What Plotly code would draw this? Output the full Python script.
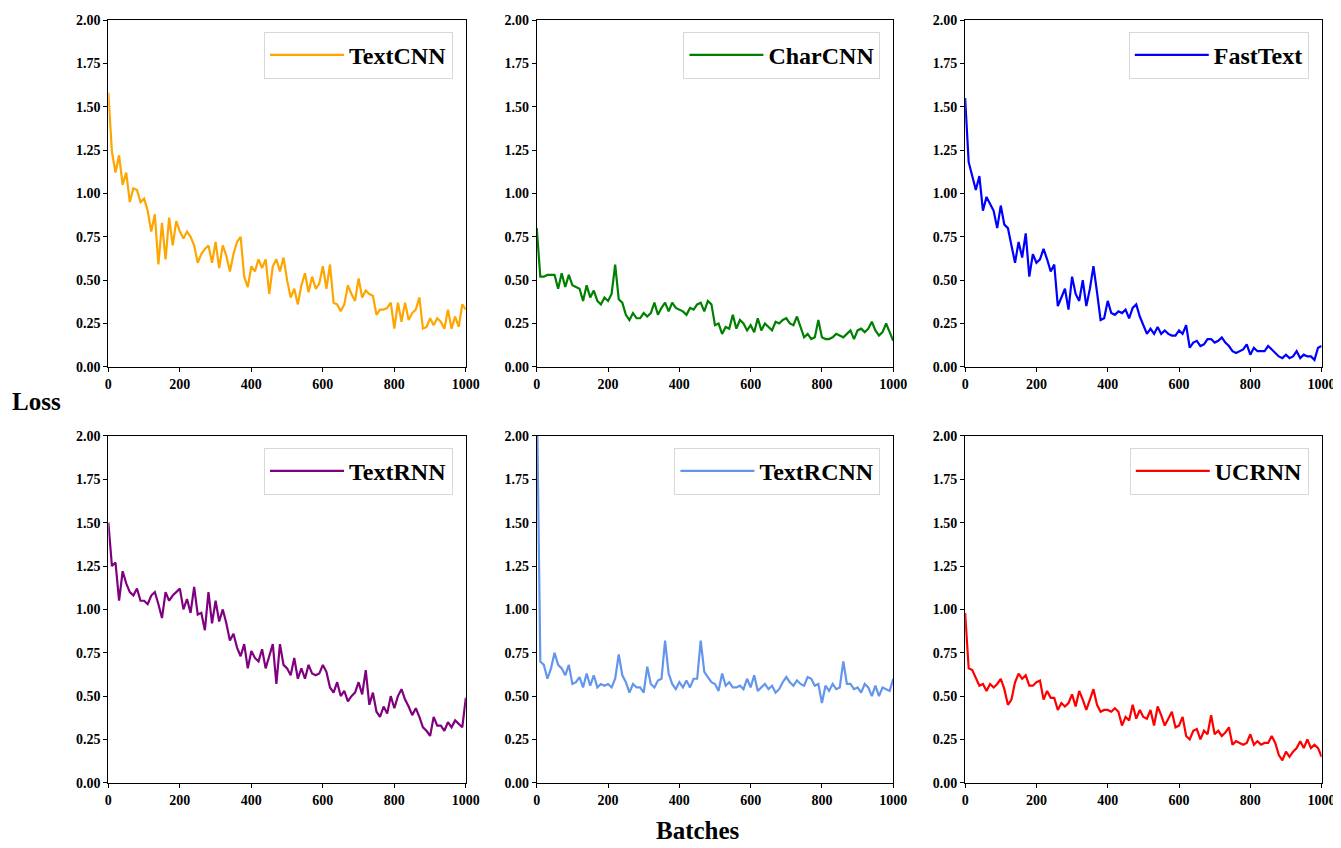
import plotly.graph_objects as go

batches = list(range(0, 1001, 10))

textcnn = [1.58, 1.24, 1.12, 1.22, 1.05, 1.12, 0.95, 1.03, 1.02, 0.95,
           0.97, 0.90, 0.78, 0.88, 0.59, 0.83, 0.62, 0.86, 0.70, 0.84,
           0.78, 0.74, 0.78, 0.75, 0.70, 0.60, 0.65, 0.68, 0.70, 0.60,
           0.72, 0.57, 0.70, 0.64, 0.55, 0.65, 0.72, 0.75, 0.52, 0.46,
           0.58, 0.55, 0.62, 0.57, 0.62, 0.42, 0.58, 0.62, 0.55, 0.63,
           0.50, 0.40, 0.45, 0.36, 0.47, 0.54, 0.43, 0.52, 0.45, 0.48,
           0.58, 0.45, 0.59, 0.37, 0.36, 0.32, 0.36, 0.47, 0.42, 0.38,
           0.51, 0.40, 0.44, 0.42, 0.41, 0.30, 0.33, 0.33, 0.34, 0.37,
           0.22, 0.37, 0.26, 0.37, 0.27, 0.31, 0.33, 0.40, 0.22, 0.23,
           0.28, 0.24, 0.28, 0.26, 0.22, 0.33, 0.22, 0.29, 0.23, 0.36,
           0.33]

charcnn = [0.80, 0.52, 0.52, 0.53, 0.53, 0.53, 0.45, 0.54, 0.46, 0.53,
           0.47, 0.46, 0.45, 0.38, 0.47, 0.40, 0.44, 0.38, 0.36, 0.40,
           0.38, 0.42, 0.59, 0.39, 0.37, 0.30, 0.27, 0.31, 0.28, 0.28,
           0.31, 0.29, 0.31, 0.37, 0.30, 0.34, 0.37, 0.32, 0.37, 0.34,
           0.33, 0.32, 0.30, 0.34, 0.33, 0.36, 0.37, 0.32, 0.38, 0.36,
           0.24, 0.25, 0.19, 0.23, 0.22, 0.30, 0.22, 0.27, 0.25, 0.21,
           0.24, 0.20, 0.28, 0.21, 0.25, 0.23, 0.21, 0.26, 0.25, 0.27,
           0.28, 0.25, 0.24, 0.29, 0.23, 0.17, 0.19, 0.16, 0.17, 0.27,
           0.17, 0.16, 0.16, 0.17, 0.19, 0.18, 0.17, 0.19, 0.21, 0.16,
           0.21, 0.22, 0.20, 0.22, 0.26, 0.21, 0.18, 0.20, 0.25, 0.20,
           0.15]

fasttext = [1.55, 1.18, 1.10, 1.02, 1.10, 0.90, 0.98, 0.94, 0.90, 0.80,
            0.93, 0.82, 0.80, 0.70, 0.60, 0.72, 0.63, 0.77, 0.52, 0.65,
            0.60, 0.62, 0.68, 0.62, 0.55, 0.59, 0.35, 0.40, 0.45, 0.33,
            0.52, 0.42, 0.38, 0.50, 0.35, 0.45, 0.58, 0.43, 0.27, 0.28,
            0.38, 0.31, 0.30, 0.32, 0.31, 0.33, 0.28, 0.34, 0.36, 0.29,
            0.24, 0.19, 0.22, 0.19, 0.23, 0.19, 0.21, 0.19, 0.18, 0.18,
            0.21, 0.19, 0.24, 0.11, 0.14, 0.15, 0.12, 0.13, 0.16, 0.16,
            0.14, 0.15, 0.17, 0.14, 0.12, 0.09, 0.08, 0.09, 0.10, 0.13,
            0.07, 0.11, 0.09, 0.09, 0.09, 0.12, 0.10, 0.08, 0.06, 0.05,
            0.07, 0.05, 0.06, 0.09, 0.05, 0.07, 0.06, 0.06, 0.04, 0.11,
            0.12]

textrnn = [1.50, 1.25, 1.27, 1.05, 1.22, 1.15, 1.10, 1.08, 1.12, 1.05,
           1.05, 1.03, 1.08, 1.10, 1.03, 0.95, 1.10, 1.05, 1.08, 1.10,
           1.12, 1.00, 1.06, 0.98, 1.13, 0.97, 0.98, 0.88, 1.10, 0.92,
           1.05, 0.93, 1.00, 0.92, 0.82, 0.86, 0.78, 0.73, 0.80, 0.66,
           0.76, 0.72, 0.70, 0.77, 0.66, 0.73, 0.80, 0.57, 0.80, 0.68,
           0.66, 0.62, 0.72, 0.60, 0.66, 0.60, 0.68, 0.63, 0.62, 0.63,
           0.68, 0.64, 0.55, 0.52, 0.58, 0.50, 0.53, 0.47, 0.50, 0.52,
           0.58, 0.51, 0.65, 0.45, 0.52, 0.41, 0.38, 0.44, 0.40, 0.50,
           0.43, 0.50, 0.54, 0.48, 0.44, 0.39, 0.43, 0.38, 0.32, 0.30,
           0.27, 0.38, 0.33, 0.33, 0.30, 0.35, 0.32, 0.36, 0.34, 0.32,
           0.49]

textrcnn = [2.30, 0.70, 0.68, 0.60, 0.66, 0.75, 0.68, 0.66, 0.62, 0.68,
            0.57, 0.58, 0.61, 0.55, 0.63, 0.56, 0.62, 0.55, 0.57, 0.56,
            0.57, 0.55, 0.60, 0.74, 0.62, 0.58, 0.52, 0.57, 0.55, 0.55,
            0.52, 0.67, 0.57, 0.55, 0.59, 0.60, 0.82, 0.63, 0.57, 0.54,
            0.58, 0.55, 0.59, 0.55, 0.60, 0.60, 0.82, 0.64, 0.61, 0.58,
            0.57, 0.53, 0.63, 0.56, 0.58, 0.55, 0.55, 0.56, 0.54, 0.60,
            0.55, 0.62, 0.53, 0.55, 0.57, 0.54, 0.56, 0.52, 0.54, 0.58,
            0.61, 0.58, 0.56, 0.59, 0.57, 0.56, 0.61, 0.60, 0.56, 0.57,
            0.46, 0.56, 0.53, 0.57, 0.54, 0.55, 0.70, 0.57, 0.57, 0.54,
            0.55, 0.52, 0.57, 0.55, 0.50, 0.56, 0.50, 0.55, 0.54, 0.53,
            0.60]

ucrnn = [0.98, 0.66, 0.65, 0.60, 0.56, 0.57, 0.53, 0.57, 0.55, 0.57,
         0.60, 0.54, 0.45, 0.48, 0.58, 0.63, 0.60, 0.62, 0.56, 0.56,
         0.58, 0.59, 0.48, 0.53, 0.49, 0.49, 0.42, 0.46, 0.44, 0.46,
         0.51, 0.44, 0.53, 0.48, 0.42, 0.48, 0.54, 0.45, 0.41, 0.42,
         0.42, 0.41, 0.43, 0.41, 0.33, 0.38, 0.36, 0.45, 0.37, 0.42,
         0.38, 0.37, 0.42, 0.33, 0.44, 0.39, 0.33, 0.37, 0.41, 0.32,
         0.33, 0.38, 0.27, 0.25, 0.30, 0.31, 0.25, 0.30, 0.28, 0.39,
         0.28, 0.30, 0.27, 0.29, 0.32, 0.22, 0.24, 0.23, 0.22, 0.23,
         0.28, 0.22, 0.24, 0.22, 0.23, 0.23, 0.27, 0.23, 0.16, 0.13,
         0.18, 0.15, 0.18, 0.20, 0.24, 0.20, 0.25, 0.20, 0.22, 0.20,
         0.15]

names = ["TextCNN", "CharCNN", "FastText", "TextRNN", "TextRCNN", "UCRNN"]
series = [textcnn, charcnn, fasttext, textrnn, textrcnn, ucrnn]
colors = ["#FFA500", "#008000", "#0000FF", "#800080", "#6495ED", "#FF0000"]

y_ticks = [0, 0.25, 0.5, 0.75, 1.0, 1.25, 1.5, 1.75, 2.0]
x_ticks = [0, 200, 400, 600, 800, 1000]

W, H = 1341, 848
# empirical mapping from target screen pixels to figure pixels
SX, AX = 0.988, 10.5
SY, AY = 0.980, 15.0


def px(t):
    return (t - AX) / SX


def py(t):
    return (t - AY) / SY


col_px = [(107, 465), (536, 893), (965, 1322)]
row_px = [(20, 366), (435, 781)]

FONT = "Liberation Serif, Times New Roman, serif"

fig = go.Figure()
layout = dict(
    width=W, height=H,
    margin=dict(l=0, r=0, t=0, b=0),
    paper_bgcolor="white", plot_bgcolor="white",
    font=dict(family=FONT, color="black", weight="bold"),
    showlegend=True,
)

for i, (name, vals, col) in enumerate(zip(names, series, colors)):
    r, c = divmod(i, 3)
    idx = "" if i == 0 else str(i + 1)
    x0, x1 = px(col_px[c][0]), px(col_px[c][1])
    yt, yb = py(row_px[r][0]), py(row_px[r][1])
    xd = [x0 / W, x1 / W]
    yd = [1 - yb / H, 1 - yt / H]
    leg = "legend" + idx
    fig.add_trace(go.Scatter(
        x=batches, y=vals, mode="lines", name=name,
        line=dict(color=col, width=2.2),
        xaxis="x" + idx, yaxis="y" + idx, legend=leg,
    ))
    axcommon = dict(
        showgrid=False, zeroline=False, showline=True, linecolor="black",
        linewidth=1, mirror=True, ticks="outside", ticklen=4, tickwidth=1,
        tickcolor="black", tickfont=dict(family=FONT, size=14, color="black", weight="bold"),
    )
    layout["xaxis" + idx] = dict(axcommon, domain=xd, range=[0, 1000],
                                 tickvals=x_ticks, anchor="y" + idx)
    layout["yaxis" + idx] = dict(axcommon, domain=yd, range=[0, 2],
                                 tickvals=y_ticks, tickformat=".2f", anchor="x" + idx)
    layout[leg] = dict(
        x=(x1 - 13) / W, y=1 - (yt + 12) / H, xanchor="right", yanchor="top",
        xref="paper", yref="paper",
        bgcolor="white", bordercolor="#d8d8d8", borderwidth=1,
        font=dict(family=FONT, size=24, color="black", weight="bold"),
        itemwidth=74,
    )

fig.update_layout(**layout)

fig.add_annotation(text="Loss", x=px(35) / W, y=1 - py(401) / H, xref="paper", yref="paper",
                   xanchor="center", yanchor="middle", showarrow=False,
                   font=dict(family=FONT, size=25, color="black", weight="bold"))
fig.add_annotation(text="Batches", x=px(697) / W, y=0, xref="paper", yref="paper",
                   xanchor="center", yanchor="bottom", yshift=2, showarrow=False,
                   font=dict(family=FONT, size=25, color="black", weight="bold"))

fig.write_html("out.html")
